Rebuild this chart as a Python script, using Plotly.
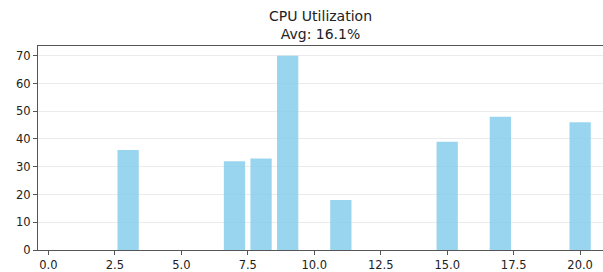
import plotly.graph_objects as go

time_steps = list(range(1, 21))
cpu_values = [0, 0, 36, 0, 0, 0, 32, 33, 70, 0, 18, 0, 0, 0, 39, 0, 48, 0, 0, 46]
x_tick_vals = [0, 2.5, 5, 7.5, 10, 12.5, 15, 17.5, 20]
y_tick_vals = [0, 10, 20, 30, 40, 50, 60, 70]

avg = sum(cpu_values) / len(cpu_values)

fig = go.Figure()
fig.add_trace(go.Bar(
    x=time_steps, y=cpu_values, width=0.8,
    marker=dict(color="rgba(135,206,235,0.85)", line=dict(width=0)),
))

fig.update_layout(
    width=603, height=272,
    margin=dict(l=38, r=0, t=46, b=19),
    paper_bgcolor="white", plot_bgcolor="white",
    showlegend=False,
    font=dict(family="DejaVu Sans", size=11.5, color="#222"),
    title=dict(
        text=f"CPU Utilization<br>Avg: {avg:.1f}%",
        x=0.5, xanchor="center", xref="paper",
        y=1 - 21/272, yanchor="top",
        font=dict(family="DejaVu Sans", size=14, color="#222"),
    ),
)
fig.update_xaxes(
    range=[-0.39, 20.86],
    tickvals=x_tick_vals, ticktext=[f"{v:.1f}" for v in x_tick_vals],
    showgrid=False, zeroline=False,
    showline=True, linecolor="#555", linewidth=1, mirror=True,
    ticks="outside", ticklen=4, tickcolor="#555",
)
fig.update_yaxes(
    range=[0, 73.5],
    tickvals=y_tick_vals,
    showgrid=True, gridcolor="rgba(0,0,0,0.08)", gridwidth=1,
    zeroline=False,
    showline=True, linecolor="#555", linewidth=1,
    ticks="outside", ticklen=4, tickcolor="#555",
)

fig.write_html(
    "out.html",
    config={"displayModeBar": False},
    post_script="document.body.style.margin='0';document.body.style.overflow='hidden';",
)
